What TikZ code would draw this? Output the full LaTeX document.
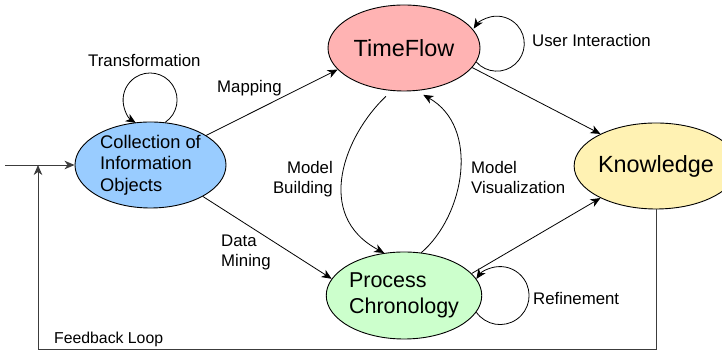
\documentclass[tikz,border=0pt]{standalone}
\usepackage{fontspec}
\setmainfont{Liberation Sans}
\usetikzlibrary{shapes.geometric,arrows.meta}
\definecolor{cblue}{RGB}{153,204,255}
\definecolor{cpink}{RGB}{255,179,179}
\definecolor{cyellow}{RGB}{255,242,179}
\definecolor{cgreen}{RGB}{204,255,204}
\definecolor{fbgray}{RGB}{60,60,60}
\begin{document}
\begin{tikzpicture}[x=1pt,y=1pt,
  state/.style={ellipse, draw=black, line width=0.9pt, inner sep=0pt, align=left},
  lbl/.style={inner sep=0pt, font=\fontsize{16.8}{20.5}\selectfont},
  arr/.style={-{Stealth[length=10pt,width=8.5pt,inset=3pt]}, line width=0.8pt},
  fb/.style={-{Stealth[length=10pt,width=8.5pt,inset=3pt]}, line width=0.9pt, draw=fbgray},
]
\useasboundingbox (0,0) rectangle (722,352);
\clip (0,0) rectangle (722,352);

\node[state, fill=cblue, minimum width=151pt, minimum height=86pt,
  font=\fontsize{18.3}{21.7}\selectfont] (col) at (150.5,187) {Collection of\\Information\\Objects};
\node[state, fill=cpink, minimum width=152pt, minimum height=86pt,
  font=\fontsize{23.4}{28}\selectfont] (tf) at (404,304) {TimeFlow};
\node[state, fill=cyellow, minimum width=152pt, minimum height=86pt,
  font=\fontsize{23.4}{28}\selectfont] (kn) at (656,186) {Knowledge};
\node[state, fill=cgreen, minimum width=152pt, minimum height=87pt,
  font=\fontsize{21.5}{26}\selectfont] (pc) at (404,56.5) {Process\\Chronology};

% main arrows
\draw[arr] (col.28.5) -- (tf.198);
\draw[arr] (col.-31.7) -- (pc.167);
\draw[arr] (tf.-16) -- (kn.150.1);
\draw[arr] (pc.18.8) -- (kn.210.6);

% model building / visualization
\draw[arr, shorten <=8pt] (tf.254) .. controls (345,217) and (313,137) .. (pc.115.8);
\draw[arr, shorten >=8pt] (pc.68) .. controls (465,137) and (480,225) .. (tf.-74);

% self loops
\draw[arr] (col.71) arc[start angle=-56, end angle=238, radius=27];
\draw[arr] (tf.-11) arc[start angle=222, end angle=507, radius=27.5];
\draw[arr] (pc.-13) arc[start angle=215, end angle=505, radius=29];

% input and feedback
\coordinate (in) at (5,187);
\coordinate (fbc) at (38,3);
\coordinate (fbend) at (38,187);
\draw[fb] (in) -- (col.west);
\draw[fb] (kn.south) |- (fbc) -- (fbend);

% labels
\node[lbl, anchor=base west] (ltr) at (88,285) {Transformation};
\node[lbl, anchor=base west] (lmap) at (217,259) {Mapping};
\node[lbl, anchor=base west] (lui) at (532,305) {User Interaction};
\node[lbl, anchor=east, align=right] (lmb) at (333,173) {Model\\Building};
\node[lbl, anchor=west, align=left] (lmv) at (471,174.6) {Model\\Visualization};
\node[lbl, anchor=west, align=left] (ldm) at (221,99.7) {Data\\Mining};
\node[lbl, anchor=base west] (lref) at (533,47) {Refinement};
\node[lbl, anchor=base west, font=\fontsize{15.8}{19}\selectfont] (lfb) at (54,8) {Feedback Loop};
\end{tikzpicture}
\end{document}
